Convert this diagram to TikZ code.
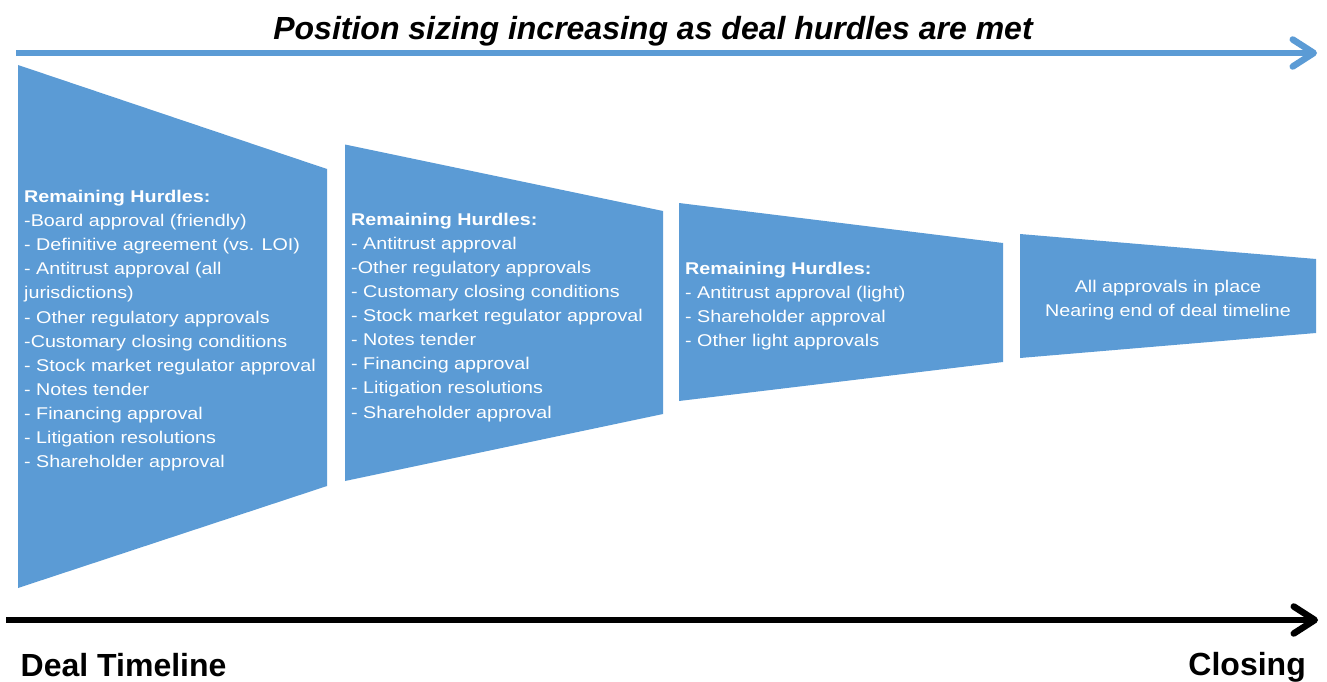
\documentclass[tikz,border=0pt]{standalone}
\usepackage{fontspec}
\setmainfont{Liberation Sans}
\newfontfamily\bodyfont[FakeStretch=1.16]{Liberation Sans}
\usetikzlibrary{arrows.meta}
\definecolor{funnel}{HTML}{5B9BD5}
\tikzset{
  stage/.style={fill=funnel, draw=none},
  hurdles/.style={inner sep=0pt, anchor=base west, align=left, text=white,
    font=\bodyfont\fontsize{17}{24.05}\selectfont},
  bigarrow/.style={line width=6.5pt, -{Straight Barb[length=21pt,width=27pt,round]}},
  biglabel/.style={inner sep=0pt, font=\bfseries\fontsize{32}{36}\selectfont}
}
\begin{document}
\begin{tikzpicture}[x=1pt,y=-1pt]
\useasboundingbox (0,0) rectangle (1327,682);
% title and top arrow
\node[biglabel, font=\bfseries\itshape\fontsize{32}{36}\selectfont, anchor=base] (title) at (653,40) {Position sizing increasing as deal hurdles are met};
\coordinate (topstart) at (16,53);
\coordinate (topend) at (1317,53);
\draw[bigarrow, funnel] (topstart) -- (topend);
% funnel stages
\path[stage] (18,65) -- (327,169) -- (327,486) -- (18,588) -- cycle;
\path[stage] (345,144.5) -- (663,211) -- (663,414) -- (345,481) -- cycle;
\path[stage] (679,203) -- (1003,243) -- (1003,362) -- (679,401) -- cycle;
\path[stage] (1020,234) -- (1316,259) -- (1316,333) -- (1020,358) -- cycle;
% texts (anchored at the baseline of the last line)
\node[hurdles] (h1) at (24,467.3) {\textbf{Remaining Hurdles:}\\
-Board approval (friendly)\\
- Definitive agreement (vs. LOI)\\
- Antitrust approval (all\\
jurisdictions)\\
- Other regulatory approvals\\
-Customary closing conditions\\
- Stock market regulator approval\\
- Notes tender\\
- Financing approval\\
- Litigation resolutions\\
- Shareholder approval};
\node[hurdles] (h2) at (351,418) {\textbf{Remaining Hurdles:}\\
- Antitrust approval\\
-Other regulatory approvals\\
- Customary closing conditions\\
- Stock market regulator approval\\
- Notes tender\\
- Financing approval\\
- Litigation resolutions\\
- Shareholder approval};
\node[hurdles] (h3) at (685,346.7) {\textbf{Remaining Hurdles:}\\
- Antitrust approval (light)\\
- Shareholder approval\\
- Other light approvals};
\node[hurdles, anchor=base, align=center] (h4) at (1168,316.7) {All approvals in place\\
Nearing end of deal timeline};
% bottom arrow and labels
\coordinate (botstart) at (6,620);
\coordinate (botend) at (1318,620);
\draw[bigarrow, black] (botstart) -- (botend);
\node[biglabel, anchor=base west] (deal) at (20.5,676) {Deal Timeline};
\node[biglabel, anchor=base east] (closing) at (1306,675) {Closing};
\end{tikzpicture}
\end{document}
